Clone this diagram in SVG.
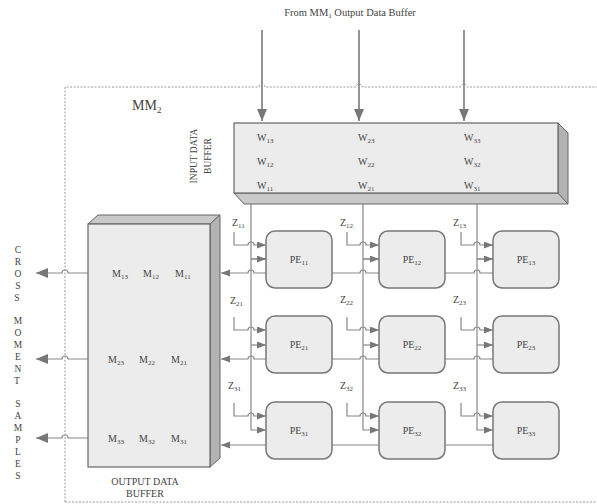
<svg xmlns="http://www.w3.org/2000/svg" width="597" height="504" viewBox="0 0 597 504">
<defs>
<marker id="ah" markerUnits="userSpaceOnUse" markerWidth="10" markerHeight="8" refX="9" refY="3.5" orient="auto-start-reverse"><path d="M0,0 L9,3.5 L0,7 z" fill="#777"/></marker>
<marker id="ahb" markerUnits="userSpaceOnUse" markerWidth="13" markerHeight="12" refX="12" refY="5" orient="auto-start-reverse"><path d="M0,0 L12,5 L0,10 z" fill="#777"/></marker>
<style>
.t{font-family:"Liberation Serif","Times New Roman",serif;fill:#444;}
.s{font-size:10px;}
.sub{font-size:7px;}
.ln{fill:none;stroke:#888;stroke-width:1.2;}
.big{fill:none;stroke:#888;stroke-width:1.8;}
.dash{fill:none;stroke:#999;stroke-width:1;stroke-dasharray:2,1.5;}
.pe{fill:#ececec;stroke:#777;stroke-width:1.5;}
.face{fill:#ececec;stroke:#666;stroke-width:1.2;}
.top{fill:#c9c9c9;stroke:#666;stroke-width:1;}
.side{fill:#b3b3b3;stroke:#666;stroke-width:1;}
</style>
</defs>
<rect width="597" height="504" fill="#fff"/>

<text class="t" x="350" y="16" font-size="10.5" text-anchor="middle">From MM<tspan class="sub" dy="2">1</tspan><tspan dy="-2"> Output Data Buffer</tspan></text>

<g id="mm2-border">
<path class="dash" d="M65 502 V87 H259 A3 3 0 0 1 265 87 H356 A3 3 0 0 1 362 87 H461 A3 3 0 0 1 467 87 H597 M65 502 H597"/>
<text class="t" x="132" y="110" font-size="14">MM<tspan font-size="9" dy="3">2</tspan></text>
</g>

<g id="connectors">
<path class="big" d="M262 30 V121" marker-end="url(#ahb)"/>
<path class="big" d="M359 30 V121" marker-end="url(#ahb)"/>
<path class="big" d="M464 30 V121" marker-end="url(#ahb)"/>

<path class="ln" d="M251 204 V430 H266" marker-end="url(#ah)"/>
<path class="ln" d="M363 204 V430 H379" marker-end="url(#ah)"/>
<path class="ln" d="M477 204 V430 H493" marker-end="url(#ah)"/>
<path class="ln" d="M251 259 H266 M363 259 H379 M477 259 H493"/>
<path class="ln" d="M251 259 H266" marker-end="url(#ah)"/>
<path class="ln" d="M363 259 H379" marker-end="url(#ah)"/>
<path class="ln" d="M477 259 H493" marker-end="url(#ah)"/>
<path class="ln" d="M251 345 H266" marker-end="url(#ah)"/>
<path class="ln" d="M363 345 H379" marker-end="url(#ah)"/>
<path class="ln" d="M477 345 H493" marker-end="url(#ah)"/>

<path class="ln" d="M234 232 V245 H248 A3 3 0 0 1 254 245 H266" marker-end="url(#ah)"/>
<path class="ln" d="M347 232 V245 H360 A3 3 0 0 1 366 245 H379" marker-end="url(#ah)"/>
<path class="ln" d="M461 232 V245 H474 A3 3 0 0 1 480 245 H493" marker-end="url(#ah)"/>
<path class="ln" d="M234 317 V330 H248 A3 3 0 0 1 254 330 H266" marker-end="url(#ah)"/>
<path class="ln" d="M347 317 V330 H360 A3 3 0 0 1 366 330 H379" marker-end="url(#ah)"/>
<path class="ln" d="M461 317 V330 H474 A3 3 0 0 1 480 330 H493" marker-end="url(#ah)"/>
<path class="ln" d="M234 403 V416 H248 A3 3 0 0 1 254 416 H266" marker-end="url(#ah)"/>
<path class="ln" d="M347 403 V416 H360 A3 3 0 0 1 366 416 H379" marker-end="url(#ah)"/>
<path class="ln" d="M461 403 V416 H474 A3 3 0 0 1 480 416 H493" marker-end="url(#ah)"/>

<path class="ln" d="M221 273 H248 A3 3 0 0 1 254 273 H360 A3 3 0 0 1 366 273 H474 A3 3 0 0 1 480 273 H500" marker-start="url(#ah)"/>
<path class="ln" d="M221 359 H248 A3 3 0 0 1 254 359 H360 A3 3 0 0 1 366 359 H474 A3 3 0 0 1 480 359 H500" marker-start="url(#ah)"/>
<path class="ln" d="M221 445 H266 M332 445 H379 M445 445 H500" marker-start="url(#ah)"/>

<path class="ln" d="M36 273 H62 A3 3 0 0 1 68 273 H92" marker-start="url(#ahb)"/>
<path class="ln" d="M36 359 H62 A3 3 0 0 1 68 359 H92" marker-start="url(#ahb)"/>
<path class="ln" d="M36 438 H62 A3 3 0 0 1 68 438 H92" marker-start="url(#ahb)"/>
</g>

<g id="input-buffer">
<polygon class="top" points="234,193 558,193 568,204 244,204"/>
<polygon class="side" points="558,123 568,133 568,204 558,193"/>
<rect class="face" x="234" y="123" width="324" height="70"/>
<text class="t s" x="257" y="141">W<tspan class="sub" dy="2">13</tspan></text>
<text class="t s" x="257" y="165">W<tspan class="sub" dy="2">12</tspan></text>
<text class="t s" x="257" y="189">W<tspan class="sub" dy="2">11</tspan></text>
<text class="t s" x="358" y="141">W<tspan class="sub" dy="2">23</tspan></text>
<text class="t s" x="358" y="165">W<tspan class="sub" dy="2">22</tspan></text>
<text class="t s" x="358" y="189">W<tspan class="sub" dy="2">21</tspan></text>
<text class="t s" x="464" y="141">W<tspan class="sub" dy="2">33</tspan></text>
<text class="t s" x="464" y="165">W<tspan class="sub" dy="2">32</tspan></text>
<text class="t s" x="464" y="189">W<tspan class="sub" dy="2">31</tspan></text>
<text class="t" font-size="9.5" text-anchor="middle" transform="translate(197 156) rotate(-90)">INPUT DATA</text>
<text class="t" font-size="9.5" text-anchor="middle" transform="translate(211 156) rotate(-90)">BUFFER</text>
</g>

<g id="output-buffer">
<polygon class="top" points="88,224 98,215 220,215 210,224"/>
<polygon class="side" points="210,224 220,215 220,458 210,467"/>
<rect class="face" x="88" y="224" width="122" height="243"/>
<text class="t s" x="112" y="277">M<tspan class="sub" dy="2">13</tspan></text>
<text class="t s" x="143" y="277">M<tspan class="sub" dy="2">12</tspan></text>
<text class="t s" x="175" y="277">M<tspan class="sub" dy="2">11</tspan></text>
<text class="t s" x="108" y="363">M<tspan class="sub" dy="2">23</tspan></text>
<text class="t s" x="139" y="363">M<tspan class="sub" dy="2">22</tspan></text>
<text class="t s" x="171" y="363">M<tspan class="sub" dy="2">21</tspan></text>
<text class="t s" x="108" y="442">M<tspan class="sub" dy="2">33</tspan></text>
<text class="t s" x="139" y="442">M<tspan class="sub" dy="2">32</tspan></text>
<text class="t s" x="171" y="442">M<tspan class="sub" dy="2">31</tspan></text>
<text class="t s" x="145" y="485" text-anchor="middle">OUTPUT DATA</text>
<text class="t s" x="145" y="497" text-anchor="middle">BUFFER</text>
</g>

<g id="side-label">
<text class="t" font-size="9.5" text-anchor="middle">
<tspan x="18" y="253">C</tspan><tspan x="18" y="265">R</tspan><tspan x="18" y="277">O</tspan><tspan x="18" y="289">S</tspan><tspan x="18" y="301">S</tspan>
<tspan x="18" y="324">M</tspan><tspan x="18" y="336">O</tspan><tspan x="18" y="348">M</tspan><tspan x="18" y="360">E</tspan><tspan x="18" y="372">N</tspan><tspan x="18" y="384">T</tspan>
<tspan x="18" y="407">S</tspan><tspan x="18" y="419">A</tspan><tspan x="18" y="431">M</tspan><tspan x="18" y="443">P</tspan><tspan x="18" y="455">L</tspan><tspan x="18" y="467">E</tspan><tspan x="18" y="479">S</tspan>
</text>
</g>

<g id="z-labels">
<text class="t s" x="232" y="226">Z<tspan class="sub" dy="2">11</tspan></text>
<text class="t s" x="340" y="226">Z<tspan class="sub" dy="2">12</tspan></text>
<text class="t s" x="453" y="226">Z<tspan class="sub" dy="2">13</tspan></text>
<text class="t s" x="230" y="304">Z<tspan class="sub" dy="2">21</tspan></text>
<text class="t s" x="340" y="303">Z<tspan class="sub" dy="2">22</tspan></text>
<text class="t s" x="453" y="303">Z<tspan class="sub" dy="2">23</tspan></text>
<text class="t s" x="228" y="389">Z<tspan class="sub" dy="2">31</tspan></text>
<text class="t s" x="340" y="389">Z<tspan class="sub" dy="2">32</tspan></text>
<text class="t s" x="453" y="389">Z<tspan class="sub" dy="2">33</tspan></text>
</g>

<g id="pe11"><rect class="pe" x="266" y="231" width="66" height="57" rx="9"/><text class="t s" x="299" y="263" text-anchor="middle">PE<tspan class="sub" dy="2">11</tspan></text></g>
<g id="pe12"><rect class="pe" x="379" y="231" width="66" height="57" rx="9"/><text class="t s" x="412" y="263" text-anchor="middle">PE<tspan class="sub" dy="2">12</tspan></text></g>
<g id="pe13"><rect class="pe" x="493" y="231" width="66" height="57" rx="9"/><text class="t s" x="526" y="263" text-anchor="middle">PE<tspan class="sub" dy="2">13</tspan></text></g>
<g id="pe21"><rect class="pe" x="266" y="316" width="66" height="57" rx="9"/><text class="t s" x="299" y="348" text-anchor="middle">PE<tspan class="sub" dy="2">21</tspan></text></g>
<g id="pe22"><rect class="pe" x="379" y="316" width="66" height="57" rx="9"/><text class="t s" x="412" y="348" text-anchor="middle">PE<tspan class="sub" dy="2">22</tspan></text></g>
<g id="pe23"><rect class="pe" x="493" y="316" width="66" height="57" rx="9"/><text class="t s" x="526" y="348" text-anchor="middle">PE<tspan class="sub" dy="2">23</tspan></text></g>
<g id="pe31"><rect class="pe" x="266" y="402" width="66" height="57" rx="9"/><text class="t s" x="299" y="434" text-anchor="middle">PE<tspan class="sub" dy="2">31</tspan></text></g>
<g id="pe32"><rect class="pe" x="379" y="402" width="66" height="57" rx="9"/><text class="t s" x="412" y="434" text-anchor="middle">PE<tspan class="sub" dy="2">32</tspan></text></g>
<g id="pe33"><rect class="pe" x="493" y="402" width="66" height="57" rx="9"/><text class="t s" x="526" y="434" text-anchor="middle">PE<tspan class="sub" dy="2">33</tspan></text></g>
</svg>
